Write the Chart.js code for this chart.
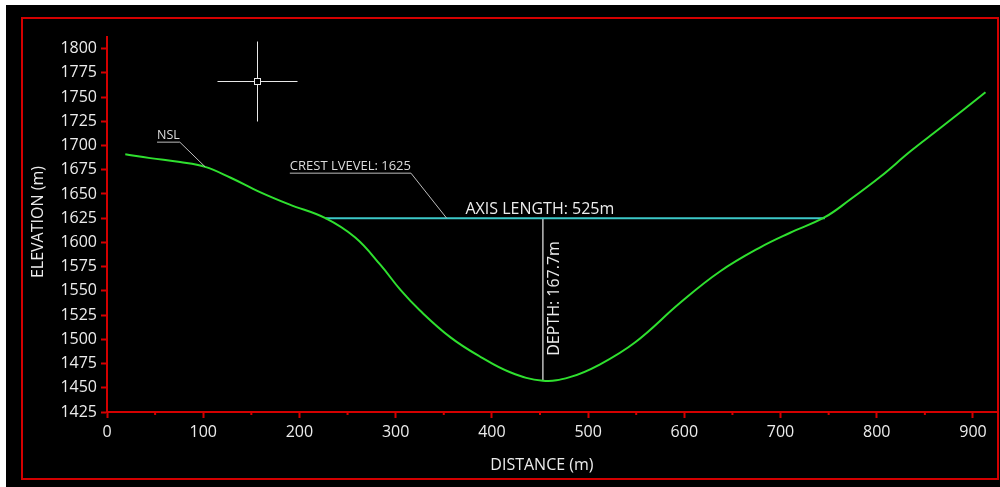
<!DOCTYPE html>
<html lang="en">
<head>
    <meta charset="UTF-8">
    <title>Elevation profile</title>
    <style>
        html, body {
            margin: 0;
            padding: 0;
            background: #ffffff;
        }
        #wrap {
            position: relative;
            width: 1000px;
            height: 487px;
        }
    </style>
</head>
<body>
    <div id="wrap">
        <canvas id="profileChart" width="1000" height="487"></canvas>
    </div>

    <script src="https://cdn.jsdelivr.net/npm/chart.js"></script>
    <script>
        // ground profile (distance m, elevation m)
        const distance  = [19, 45, 76, 102, 128, 159, 190, 227, 258, 284, 305, 325, 357, 388, 419, 453, 481, 512, 549, 596, 637, 679, 710, 746, 772, 804, 835, 866, 913];
        const elevation = [1691, 1687, 1683, 1678, 1667, 1652, 1639, 1625, 1605, 1577, 1551, 1530, 1502, 1482, 1466, 1457.3, 1461, 1474, 1497, 1538, 1570, 1595, 1610, 1626, 1644, 1668, 1694, 1718, 1755];

        // crest line and depth marker
        const crestStart = 227;
        const crestEnd = 746;
        const crestLevel = 1625;
        const depthAt = 453;
        const depthValue = 167.7;
        const axisLength = 525;

        // cursor mark that shows in the screenshot
        const cursorX = 156;
        const cursorY = 1767;

        const xTicks = [0, 50, 100, 150, 200, 250, 300, 350, 400, 450, 500, 550, 600, 650, 700, 750, 800, 850, 900];
        const yTicks = [1425, 1450, 1475, 1500, 1525, 1550, 1575, 1600, 1625, 1650, 1675, 1700, 1725, 1750, 1775, 1800];

        const RED = '#d40000';
        const TEXT = '#ececec';
        const FONT = "'Open Sans', 'Noto Sans', sans-serif";

        const terrain = distance.map((d, i) => ({ x: d, y: elevation[i] }));
        const crest = [{ x: crestStart, y: crestLevel }, { x: crestEnd, y: crestLevel }];
        const depthLine = [{ x: depthAt, y: crestLevel }, { x: depthAt, y: crestLevel - depthValue }];

        // black panel + red frame behind everything
        const framePlugin = {
            id: 'frame',
            beforeDraw(chart) {
                const ctx = chart.ctx;
                ctx.save();
                ctx.fillStyle = '#ffffff';
                ctx.fillRect(0, 0, chart.width, chart.height);
                ctx.fillStyle = '#000000';
                ctx.fillRect(6, 5, chart.width - 6, chart.height - 5);
                ctx.strokeStyle = RED;
                ctx.lineWidth = 2;
                ctx.strokeRect(22, 18, 976, 461);
                ctx.restore();
            }
        };

        // short minor ticks on x axis + axis titles
        const axisExtras = {
            id: 'axisExtras',
            afterDraw(chart) {
                const ctx = chart.ctx;
                const xs = chart.scales.x;
                const ys = chart.scales.y;
                ctx.save();
                ctx.strokeStyle = RED;
                ctx.lineWidth = 2;
                xTicks.forEach(v => {
                    if (v % 100 === 0) return;
                    const px = xs.getPixelForValue(v);
                    ctx.beginPath();
                    ctx.moveTo(px, xs.top);
                    ctx.lineTo(px, xs.top + 3);
                    ctx.stroke();
                });

                ctx.fillStyle = TEXT;
                ctx.font = '16px ' + FONT;
                ctx.textAlign = 'center';
                ctx.textBaseline = 'middle';
                ctx.fillText('DISTANCE (m)', xs.getPixelForValue(452), xs.bottom - 12);

                ctx.save();
                ctx.translate(ys.left + 12, ys.getPixelForValue(1621));
                ctx.rotate(-Math.PI / 2);
                ctx.fillText('ELEVATION (m)', 0, 0);
                ctx.restore();

                ctx.restore();
            }
        };

        // text callouts
        const notes = {
            id: 'notes',
            afterDatasetsDraw(chart) {
                const ctx = chart.ctx;
                const xs = chart.scales.x;
                const ys = chart.scales.y;
                const X = v => xs.getPixelForValue(v);
                const Y = v => ys.getPixelForValue(v);
                ctx.save();

                // axis length label
                ctx.fillStyle = TEXT;
                ctx.font = '16px ' + FONT;
                ctx.textAlign = 'center';
                ctx.textBaseline = 'bottom';
                ctx.fillText('AXIS LENGTH: ' + axisLength + 'm', X(depthAt) - 3, Y(crestLevel) - 1);

                // depth label (rotated)
                ctx.save();
                ctx.translate(X(depthAt) + 4, (Y(crestLevel) + Y(crestLevel - depthValue)) / 2 - 1);
                ctx.rotate(-Math.PI / 2);
                ctx.textAlign = 'center';
                ctx.textBaseline = 'top';
                ctx.fillText('DEPTH: ' + depthValue + 'm', 0, 0);
                ctx.restore();

                // crest level leader
                ctx.font = '13px ' + FONT;
                ctx.fillStyle = '#dcdcdc';
                ctx.strokeStyle = '#bdbdbd';
                ctx.lineWidth = 1;
                ctx.textAlign = 'left';
                ctx.textBaseline = 'alphabetic';
                const cx0 = X(190), cy0 = Y(1672);
                const crestTxt = 'CREST LVEVEL: ' + crestLevel;
                ctx.fillText(crestTxt, cx0, cy0 - 3);
                const cw = ctx.measureText(crestTxt).width;
                ctx.beginPath();
                ctx.moveTo(cx0, cy0 + 0.5);
                ctx.lineTo(cx0 + cw, cy0 + 0.5);
                ctx.lineTo(X(353), Y(crestLevel));
                ctx.stroke();

                // NSL leader
                ctx.font = '12.5px ' + FONT;
                const nx0 = X(52), ny0 = Y(1704);
                ctx.fillText('NSL', nx0, ny0 - 3);
                const nw = ctx.measureText('NSL').width;
                ctx.beginPath();
                ctx.moveTo(nx0, ny0 + 0.5);
                ctx.lineTo(nx0 + nw, ny0 + 0.5);
                ctx.lineTo(X(102), Y(1678));
                ctx.stroke();

                // cursor crosshair
                const kx = Math.round(X(cursorX)) + 0.5, ky = Math.round(Y(cursorY)) + 0.5;
                ctx.strokeStyle = '#e8e8e8';
                ctx.beginPath();
                ctx.moveTo(kx - 40, ky);
                ctx.lineTo(kx + 40, ky);
                ctx.moveTo(kx, ky - 40);
                ctx.lineTo(kx, ky + 40);
                ctx.stroke();
                ctx.fillStyle = '#000000';
                ctx.fillRect(kx - 3, ky - 3, 6, 6);
                ctx.strokeRect(kx - 3, ky - 3, 6, 6);

                ctx.restore();
            }
        };

        const ctx = document.getElementById('profileChart').getContext('2d');
        new Chart(ctx, {
            type: 'scatter',
            data: {
                datasets: [
                    {
                        label: 'NSL',
                        data: terrain,
                        showLine: true,
                        borderColor: '#2fe02f',
                        borderWidth: 2,
                        pointRadius: 0,
                        tension: 0.4
                    },
                    {
                        label: 'Crest',
                        data: crest,
                        showLine: true,
                        borderColor: '#3cc8c8',
                        borderWidth: 2,
                        pointRadius: 0
                    },
                    {
                        label: 'Depth',
                        data: depthLine,
                        showLine: true,
                        borderColor: '#bdbdbd',
                        borderWidth: 1.5,
                        pointRadius: 0
                    }
                ]
            },
            options: {
                responsive: false,
                animation: false,
                layout: { padding: { left: 26, top: 37, right: 2, bottom: 10 } },
                plugins: {
                    legend: { display: false },
                    tooltip: { enabled: false }
                },
                scales: {
                    x: {
                        type: 'linear',
                        min: 0,
                        max: 926,
                        afterFit(scale) { scale.height = 65; },
                        afterBuildTicks(scale) { scale.ticks = xTicks.map(v => ({ value: v })); },
                        border: { color: RED, width: 2 },
                        grid: {
                            drawOnChartArea: false,
                            tickLength: 6,
                            tickWidth: 2,
                            tickColor: c => (c.tick && c.tick.value % 100 === 0) ? RED : 'rgba(0,0,0,0)'
                        },
                        ticks: {
                            autoSkip: false,
                            maxRotation: 0,
                            color: TEXT,
                            padding: 5,
                            font: { family: FONT, size: 16 },
                            callback: v => (v % 100 === 0 ? String(v) : '')
                        }
                    },
                    y: {
                        type: 'linear',
                        min: 1425,
                        max: 1812,
                        afterFit(scale) { scale.width = 81; },
                        afterBuildTicks(scale) { scale.ticks = yTicks.map(v => ({ value: v })); },
                        border: { color: RED, width: 2 },
                        grid: {
                            drawOnChartArea: false,
                            tickLength: 6,
                            tickWidth: 2,
                            tickColor: RED
                        },
                        ticks: {
                            autoSkip: false,
                            color: TEXT,
                            padding: 4,
                            font: { family: FONT, size: 16 },
                            callback: v => String(v)
                        }
                    }
                }
            },
            plugins: [framePlugin, axisExtras, notes]
        });
    </script>
</body>
</html>
